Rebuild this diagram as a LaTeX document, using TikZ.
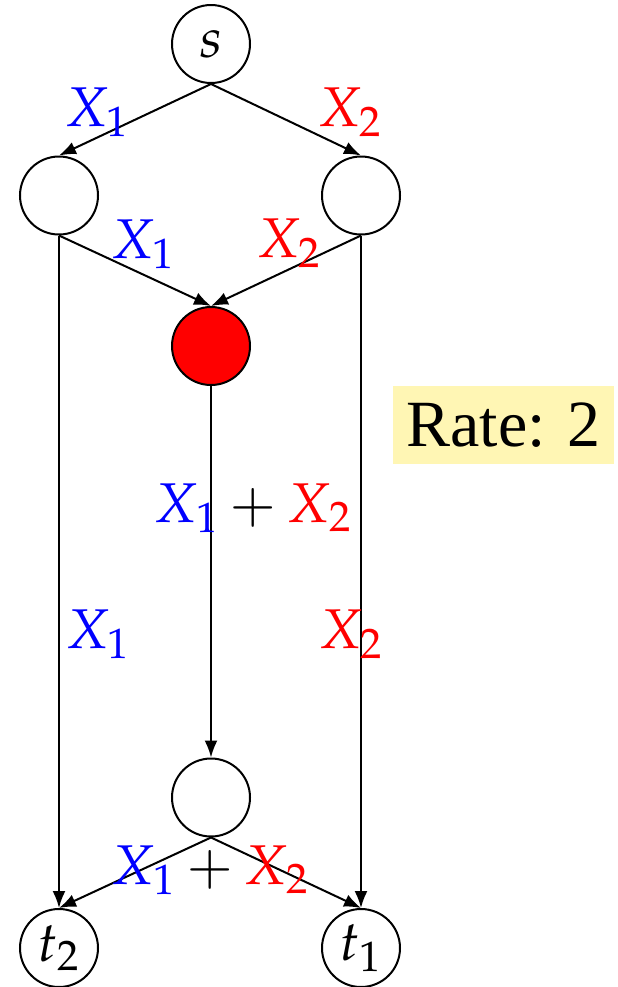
\documentclass[tikz,border=0pt]{standalone}
\usepackage{mathpazo}
\usepackage[no-math]{fontspec}
\newfontfamily\ratefont{Liberation Serif}
\usetikzlibrary{arrows.meta}
\definecolor{RateYellow}{HTML}{FFF6B4}
\tikzset{
    % Plain network vertex
    vertex/.style={
        circle,
        draw=black,
        line width=1pt,
        minimum size=39pt,
        inner sep=0pt,
        font=\fontsize{28}{34}\selectfont
    },
    % Coding vertex
    coder/.style={
        vertex,
        fill=red
    },
    % Arrow style
    arrow/.style={
        -{Latex[length=8.5pt,width=6.5pt]},
        line width=1pt,
        color=black
    },
    % Flow label
    flow/.style={
        inner sep=0pt,
        font=\fontsize{28}{34}\selectfont
    },
    % Rate box
    ratebox/.style={
        rectangle,
        fill=RateYellow,
        minimum width=110.5pt,
        minimum height=39pt,
        font=\ratefont\fontsize{33}{40}\selectfont
    }
}
\begin{document}
\begin{tikzpicture}[x=0.5pt, y=-0.5pt]
        \useasboundingbox (0,0) rectangle (617,987);

        % Butterfly network
        \node (s) [vertex] at (211,44) {$s$};
        \node (a) [vertex] at (59,195.5) {};
        \node (b) [vertex] at (361,195.5) {};
        \node (c) [coder] at (211,346) {};
        \node (d) [vertex] at (211,797.5) {};
        \node (t2) [vertex] at (59,948) {$t_2$};
        \node (t1) [vertex] at (361,948) {$t_1$};

        \draw [arrow] (s.south) -- (a.north);
        \draw [arrow] (s.south) -- (b.north);
        \draw [arrow] (a.south) -- (c.north);
        \draw [arrow] (b.south) -- (c.north);
        \draw [arrow] (a.south) -- (t2.north);
        \draw [arrow] (b.south) -- (t1.north);
        \draw [arrow] (c.south) -- (d.north);
        \draw [arrow] (d.south) -- (t2.north);
        \draw [arrow] (d.south) -- (t1.north);

        % Flow labels
        \node (l1) [flow, text=blue] at (97,112) {$X_1$};
        \node (l2) [flow, text=red] at (350,112) {$X_2$};
        \node (l3) [flow, text=blue] at (143,244) {$X_1$};
        \node (l4) [flow, text=red] at (289,243) {$X_2$};
        \node (l5) [flow] at (253,508) {$\textcolor{blue}{X_1}+\textcolor{red}{X_2}$};
        \node (l6) [flow, text=blue] at (98,634) {$X_1$};
        \node (l7) [flow, text=red] at (351,634) {$X_2$};
        \node (l8) [flow] at (210,870) {$\textcolor{blue}{X_1}+\textcolor{red}{X_2}$};

        \node (rate) [ratebox] at (503.5,425) {Rate: 2};
    \end{tikzpicture}
\end{document}
